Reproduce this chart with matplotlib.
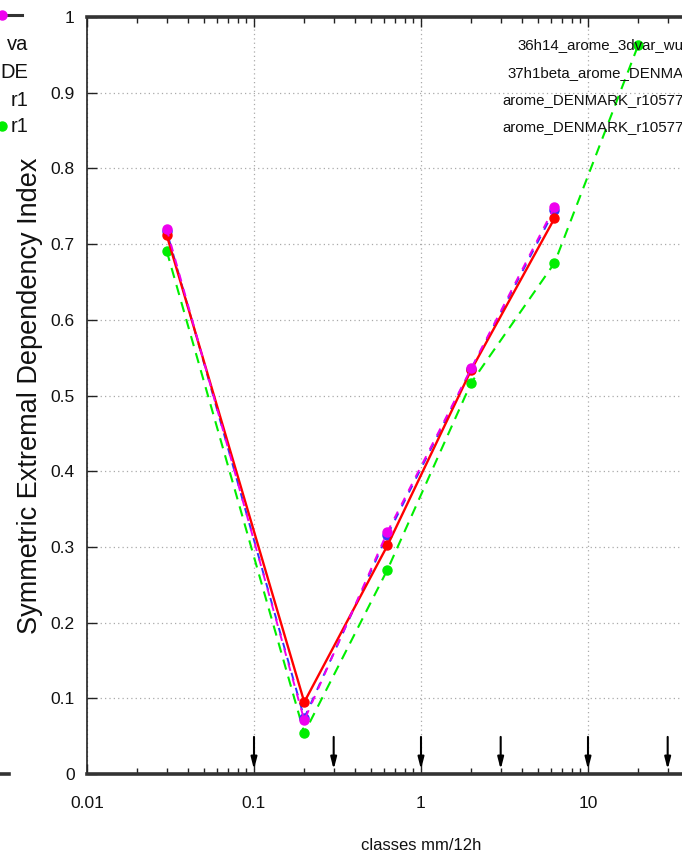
import matplotlib
matplotlib.use("Agg")
import matplotlib.pyplot as plt
from matplotlib.ticker import FixedLocator, LogLocator, NullFormatter

W, H = 682, 861
SANS = ["Liberation Sans", "DejaVu Sans"]

# Precipitation classes (mm/12h) and the class thresholds
classes = [0.03, 0.2, 0.63, 2.0, 6.3, 20.0]
thresholds = [0.1, 0.3, 1, 3, 10, 30]

# Experiment names as they appear in the key
names = ["36h14_arome_3dvar_wu", "37h1beta_arome_DENMA",
         "arome_DENMARK_r10577", "arome_DENMARK_r10577"]

# SEDI scores per class
sedi_3dvar = [0.720, 0.071, 0.320, 0.536, 0.749]
sedi_beta = [0.712, 0.095, 0.302, 0.534, 0.734]
sedi_r1 = [0.717, 0.074, 0.316, 0.535, 0.745]
sedi_r2 = [0.691, 0.054, 0.270, 0.517, 0.675, 0.963]

# Visible pieces of the neighbouring panel's key
side_names = ["va", "DE", "r1", "r1"]

yticks = [round(0.1 * i, 1) for i in range(11)]
ytick_labels = ["0"] + [f"{v:g}" for v in yticks[1:-1]] + ["1"]
xticks = [0.01, 0.1, 1, 10]
xtick_labels = ["0.01", "0.1", "1", "10"]


def fx(px):
    return px / W


def fy(py):
    return 1 - py / H


fig = plt.figure(figsize=(W / 100, H / 100), dpi=100)
ax = fig.add_axes([fx(87), fy(774), 668 / W, 757 / H])

ax.set_xscale("log")
ax.set_xlim(0.01, 100)
ax.set_ylim(0, 1)

ax.xaxis.set_major_locator(FixedLocator(xticks + [100]))
ax.set_xticklabels(xtick_labels + [""])
ax.xaxis.set_minor_locator(LogLocator(base=10, subs=range(2, 10)))
ax.xaxis.set_minor_formatter(NullFormatter())
ax.set_yticks(yticks)
ax.set_yticklabels(ytick_labels)

ax.tick_params(which="both", direction="in", top=True, right=True,
               colors="#222222", width=1.0)
ax.tick_params(which="major", length=7)
ax.tick_params(axis="y", which="major", pad=9)
ax.tick_params(axis="x", which="major", pad=16)
ax.tick_params(which="minor", length=4)
for lab in ax.get_xticklabels() + ax.get_yticklabels():
    lab.set_family(SANS)
    lab.set_fontsize(12.5)
    lab.set_color("#111111")

for side in ("top", "bottom"):
    ax.spines[side].set_linewidth(2.6)
    ax.spines[side].set_color("#333333")
for side in ("left", "right"):
    ax.spines[side].set_linewidth(1.2)
    ax.spines[side].set_color("#222222")

ax.grid(True, which="major", color="#aaaaaa", linestyle=(0, (1, 2.5)),
        linewidth=0.9)

# threshold arrows
for t in thresholds:
    ax.annotate("", xy=(t, 0.006), xytext=(t, 0.049),
                arrowprops=dict(arrowstyle="-|>,head_width=0.18,head_length=0.7",
                                color="black", lw=1.5, shrinkA=0, shrinkB=0))

ms = 6.5
ax.plot(classes, sedi_r2, color="#00ee00", lw=1.5, ls=(0, (5, 3.5)),
        marker="o", ms=ms, mec="#00ee00", zorder=3)
ax.plot(classes[:5], sedi_r1, color="#3333ff", lw=1.4, ls=(4, (4, 4)),
        marker="o", ms=ms, mec="#3333ff", zorder=3.5)
ax.plot(classes[:5], sedi_beta, color="#ff0000", lw=1.7, ls="-",
        marker="o", ms=ms, mec="#ff0000", zorder=4)
ax.plot(classes[:5], sedi_3dvar, color="#ee00ee", lw=1.4, ls=(0, (4, 4)),
        marker="o", ms=ms, mec="#ee00ee", zorder=4.5)

ax.set_xlabel("classes mm/12h", family=SANS, fontsize=12, labelpad=19,
              color="#111111")
fig.text(fx(30), fy(396), "Symmetric Extremal Dependency Index",
         family=SANS, fontsize=19.5, rotation=90, ha="center",
         va="center", color="#111111")

# key, starting inside the plot and reaching the right edge
key_x = [517, 507, 502, 502]
key_y = [45, 73, 100, 127]
for name, x, y in zip(names, key_x, key_y):
    fig.text(fx(x), fy(y), name, family=SANS, fontsize=10.8,
             ha="left", va="center", color="#111111")

# neighbouring panel: key line, markers and label ends
fig.add_artist(plt.Line2D([fx(0), fx(22)], [fy(15), fy(15)],
                          color="#333333", lw=2.2))
fig.add_artist(plt.Line2D([fx(2)], [fy(15)], marker="o", ms=ms,
                          color="#ee00ee", lw=0))
for name, y in zip(side_names, key_y):
    fig.text(fx(28), fy(y), name, family=SANS, fontsize=14.5,
             ha="right", va="center", color="#111111")
fig.add_artist(plt.Line2D([fx(2)], [fy(126)], marker="o", ms=ms,
                          color="#00ee00", lw=0))
fig.add_artist(plt.Line2D([fx(0), fx(9)], [fy(774), fy(774)],
                          color="#333333", lw=2.6))

fig.savefig("out.png", dpi=100, facecolor="white")
